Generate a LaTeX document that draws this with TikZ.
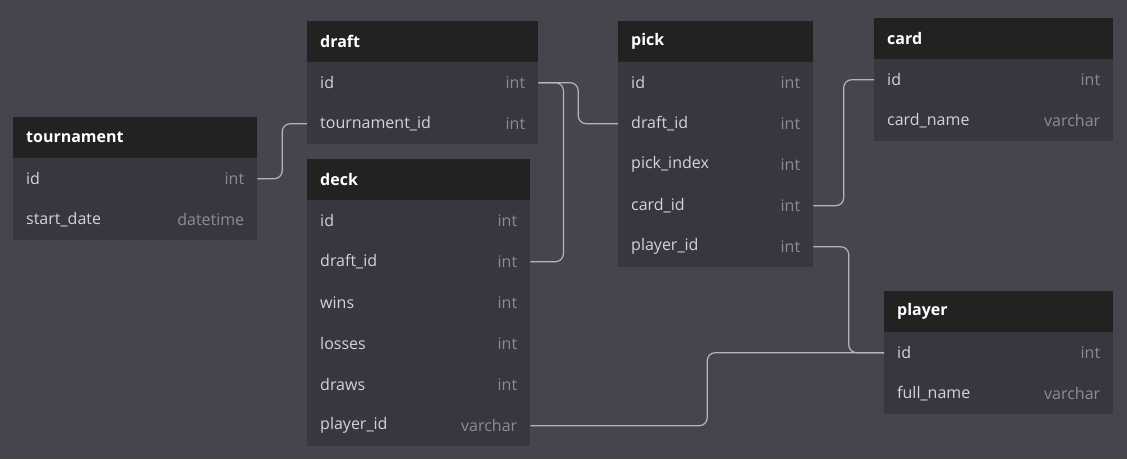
\documentclass[tikz,border=0pt]{standalone}
\usepackage{fontspec}
\setmainfont{Open Sans}
\usetikzlibrary{calc}
\definecolor{bg}{HTML}{45454D}
\definecolor{bodyc}{HTML}{37373F}
\definecolor{headc}{HTML}{222222}
\definecolor{namec}{HTML}{D4D4D6}
\definecolor{typec}{HTML}{8C8C90}
\definecolor{linec}{HTML}{B4B4BC}
\tikzset{
  hdr/.style={fill=headc, draw=none, minimum height=41pt, inner sep=0pt, anchor=north west},
  rowbox/.style={fill=bodyc, draw=none, minimum height=41pt, inner sep=0pt, anchor=north west},
  ttl/.style={text=white, font=\fontsize{16}{18}\selectfont\bfseries, anchor=west, inner sep=0pt},
  fname/.style={text=namec, font=\fontsize{16}{18}\selectfont, anchor=west, inner sep=0pt},
  ftype/.style={text=typec, font=\fontsize{16}{18}\selectfont, anchor=east, inner sep=0pt},
  conn/.style={draw=linec, line width=1.2pt, rounded corners=8pt},
}
% \erdtbl{name}{x}{y}{width}{title}{fields}
\newcommand{\erdtbl}[6]{%
  \node[hdr, minimum width=#4pt] (#1-h) at (#2,#3) {};
  \node[ttl] (#1-t) at ($(#1-h.west)+(13pt,0)$) {#5};
  \foreach \f/\ty [count=\i] in {#6} {
    \node[rowbox, minimum width=#4pt] (#1-\i) at (#2,#3+41*\i) {};
    \node[fname] (#1-\i-n) at ($(#1-\i.west)+(13pt,0)$) {\f};
    \node[ftype] (#1-\i-y) at ($(#1-\i.east)+(-13pt,0)$) {\ty};
  }%
}
\begin{document}
\begin{tikzpicture}[x=1pt,y=-1pt]
\fill[bg] (0,0) rectangle (1127,459);
\useasboundingbox (0,0) rectangle (1127,459);
\erdtbl{tournament}{13}{117}{244}{tournament}{id/int, start\_date/datetime}
\erdtbl{draft}{307}{21}{231}{draft}{id/int, tournament\_id/int}
\erdtbl{deck}{307}{159}{223}{deck}{id/int, draft\_id/int, wins/int, losses/int, draws/int, player\_id/varchar}
\erdtbl{pick}{618}{21}{195}{pick}{id/int, draft\_id/int, pick\_index/int, card\_id/int, player\_id/int}
\erdtbl{card}{874}{18}{239}{card}{id/int, card\_name/varchar}
\erdtbl{player}{884}{291}{229}{player}{id/int, full\_name/varchar}
% connectors
\coordinate (m1) at ($(tournament-1.east)!.5!(draft-2.west)$);
\draw[conn] (tournament-1.east) -| (m1) |- (draft-2.west);
\coordinate (m2) at ($(draft-1.east)!.5!(pick-2.west)$);
\draw[conn] (draft-1.east) -| (m2) |- (pick-2.west);
\coordinate (m3) at ($(draft-1.east)+(25,0)$);
\draw[conn] (draft-1.east) -- (m3) |- (deck-2.east);
\coordinate (m4) at ($(pick-4.east)!.5!(card-1.west)$);
\draw[conn] (pick-4.east) -| (m4) |- (card-1.west);
\coordinate (m5) at ($(pick-5.east)!.5!(player-1.west)$);
\draw[conn] (pick-5.east) -| (m5) |- (player-1.west);
\coordinate (m6) at ($(deck-6.east)!.5!(player-1.west)$);
\draw[conn] (deck-6.east) -| (m6) |- (player-1.west);
\end{tikzpicture}
\end{document}
